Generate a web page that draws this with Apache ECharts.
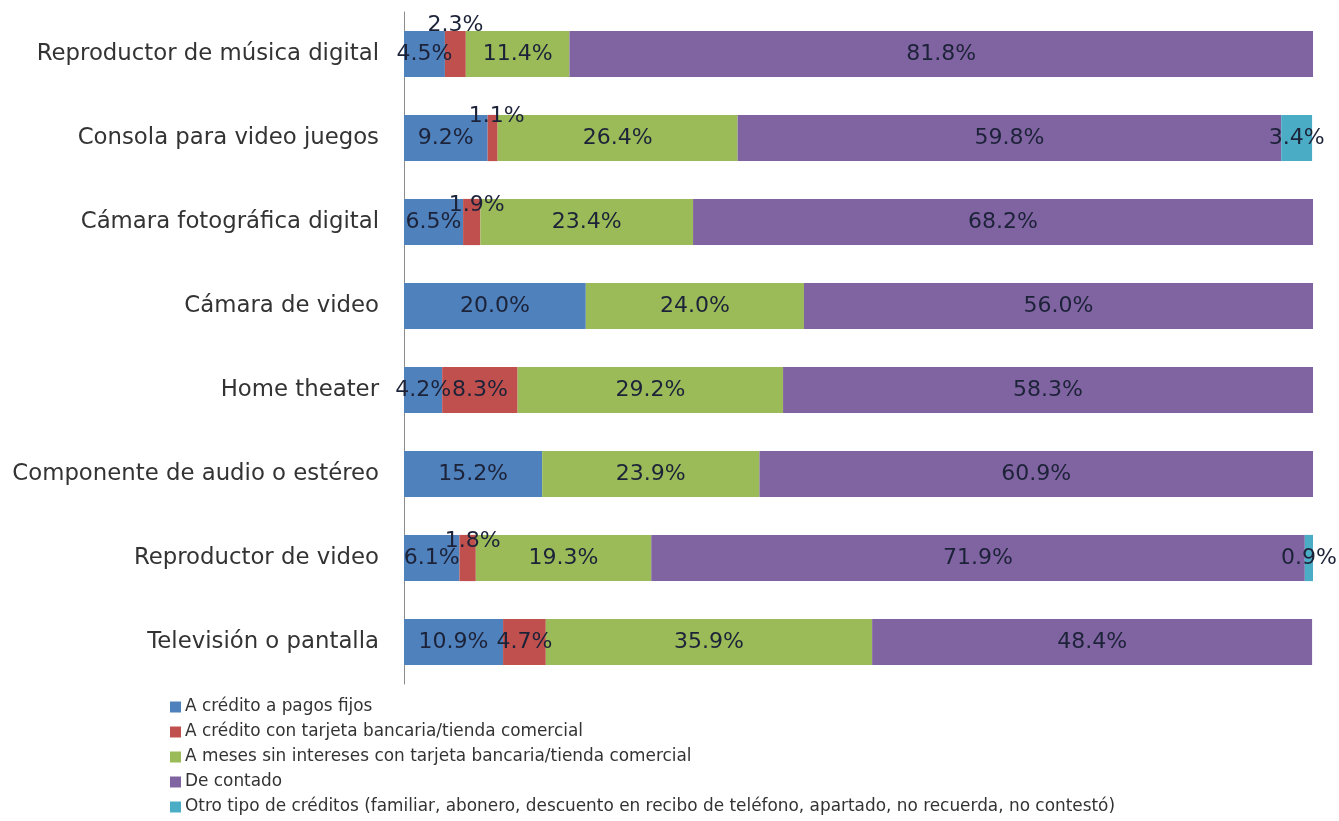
<!DOCTYPE html>
<html>
<head>
<meta charset="utf-8">
<script src="https://cdn.jsdelivr.net/npm/echarts@6/dist/echarts.min.js"></script>
<style>
html,body{margin:0;padding:0;background:#fff;}
#chart{width:1339px;height:821px;}
</style>
</head>
<body>
<div id="chart"></div>
<script>
const categories = [
  "Reproductor de música digital",
  "Consola para video juegos",
  "Cámara fotográfica digital",
  "Cámara de video",
  "Home theater",
  "Componente de audio o estéreo",
  "Reproductor de video",
  "Televisión o pantalla"
];
const seriesNames = [
  "A crédito a pagos fijos",
  "A crédito con tarjeta bancaria/tienda comercial",
  "A meses sin intereses con tarjeta bancaria/tienda comercial",
  "De contado",
  "Otro tipo de créditos (familiar, abonero, descuento en recibo de teléfono, apartado, no recuerda, no contestó)"
];
const creditoPagosFijos = [4.5, 9.2, 6.5, 20.0, 4.2, 15.2, 6.1, 10.9];
const creditoTarjeta    = [2.3, 1.1, 1.9, 0, 8.3, 0, 1.8, 4.7];
const mesesSinIntereses = [11.4, 26.4, 23.4, 24.0, 29.2, 23.9, 19.3, 35.9];
const deContado         = [81.8, 59.8, 68.2, 56.0, 58.3, 60.9, 71.9, 48.4];
const otroTipo          = [0, 3.4, 0, 0, 0, 0, 0.9, 0];

const colors = ["#4F81BD", "#C0504D", "#9BBB59", "#8064A2", "#4BACC6"];
// label shifts for crowded small red segments (by category index)
const redLabelShift = {0: [0, -29], 1: [4, -22], 2: [5, -17], 6: [5, -17]};

const allData = [creditoPagosFijos, creditoTarjeta, mesesSinIntereses, deContado, otroTipo];
const FONT = "DejaVu Sans, sans-serif";

const series = allData.map((arr, si) => ({
  name: seriesNames[si],
  type: "bar",
  stack: "total",
  barWidth: "55%",
  itemStyle: {color: colors[si]},
  label: {
    show: true,
    position: "inside",
    fontSize: 22,
    fontFamily: FONT,
    color: "#1c2238",
    formatter: p => p.value ? p.value.toFixed(1) + "%" : ""
  },
  data: arr.map((v, ci) => {
    const d = {value: v};
    if (si === 1 && redLabelShift[ci]) {
      d.label = {offset: redLabelShift[ci]};
    }
    return d;
  })
}));

const chart = echarts.init(document.getElementById("chart"));
chart.setOption({
  animation: false,
  backgroundColor: "#fff",
  grid: {left: 404, right: 26, top: 12, bottom: 137, containLabel: false},
  xAxis: {
    type: "value", min: 0, max: 100, show: false
  },
  yAxis: {
    type: "category",
    data: categories,
    inverse: true,
    axisLine: {show: true, lineStyle: {color: "#8c8c8c", width: 1}},
    axisTick: {show: false},
    axisLabel: {
      fontSize: 22.8,
      fontFamily: FONT,
      color: "#333333",
      margin: 25
    }
  },
  legend: {
    orient: "vertical",
    left: 165,
    top: 692,
    height: 130,
    padding: 5,
    itemWidth: 11,
    itemHeight: 11,
    itemGap: 5,
    icon: "rect",
    textStyle: {fontSize: 16.9, lineHeight: 20, fontFamily: FONT, color: "#333333", padding: [0,0,0,-1]},
    data: seriesNames
  },
  series: series
});
</script>
</body>
</html>
